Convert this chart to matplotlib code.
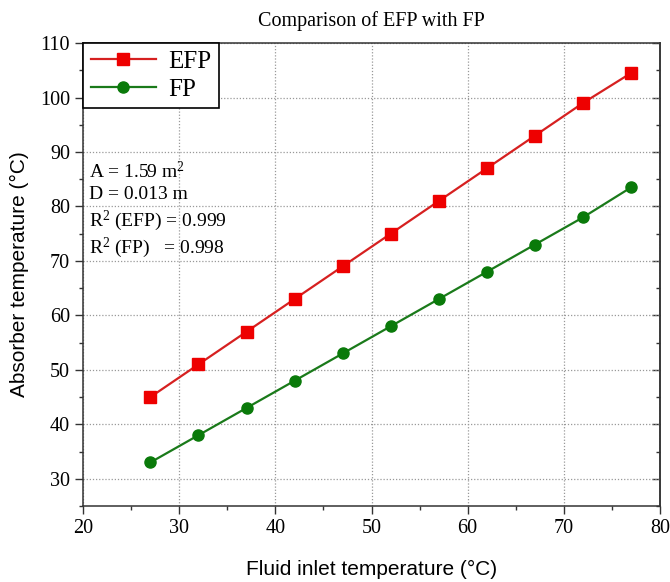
import matplotlib
matplotlib.use("Agg")
import matplotlib.pyplot as plt
from matplotlib.ticker import MultipleLocator

x = [27, 32, 37, 42, 47, 52, 57, 62, 67, 72, 77]
efp = [45, 51, 57, 63, 69, 75, 81, 87, 93, 99, 104.5]
fp = [33, 38, 43, 48, 53, 58, 63, 68, 73, 78, 83.5]
notes = ["A = 1.59 m$^2$", "D = 0.013 m", "R$^2$ (EFP) = 0.999", "R$^2$ (FP)   = 0.998"]

serif = "Liberation Serif"
sans = "Liberation Sans"
plt.rcParams["mathtext.fontset"] = "custom"
plt.rcParams["mathtext.rm"] = serif
plt.rcParams["mathtext.it"] = serif + ":italic"

fig = plt.figure(figsize=(6.7, 5.82), dpi=100)
ax = fig.add_axes([0.124, 0.1306, 0.861, 0.7954])

ax.plot(x, efp, color="#d62020", marker="s", markersize=8, lw=1.6, label="EFP", markerfacecolor="#ee0000", markeredgecolor="#ee0000")
ax.plot(x, fp, color="#1a7a1a", marker="o", markersize=8, lw=1.6, label="FP", markerfacecolor="#0a7a0a", markeredgecolor="#0a7a0a")

ax.set_xlim(20, 80)
ax.set_ylim(25, 110)
ax.xaxis.set_major_locator(MultipleLocator(10))
ax.xaxis.set_minor_locator(MultipleLocator(5))
ax.yaxis.set_minor_locator(MultipleLocator(5))
ax.set_yticks([30, 40, 50, 60, 70, 80, 90, 100, 110])
ax.grid(True, which="major", linestyle=(0, (1, 1.5)), color="#999999", lw=0.9)
ax.tick_params(which="both", direction="out", top=False, right=False, labelsize=14.5, width=1, color="#333333")
ax.tick_params(which="major", length=6)
ax.tick_params(which="minor", length=3)
for lab in ax.get_xticklabels() + ax.get_yticklabels():
    lab.set_fontfamily(serif)
for s in ax.spines.values():
    s.set_color("#333333")
    s.set_linewidth(1.1)

sec = ax.secondary_yaxis("right")
sec.set_yticks([30, 40, 50, 60, 70, 80, 90, 100, 110])
sec.yaxis.set_minor_locator(MultipleLocator(5))
sec.tick_params(which="both", direction="in", labelright=False, width=1, color="#333333")
sec.tick_params(which="major", length=6)
sec.tick_params(which="minor", length=3)
sec.spines["right"].set_color("#333333")
sec.spines["right"].set_linewidth(1.1)

ax.set_xlabel("Fluid inlet temperature (°C)", fontsize=15, family=sans, labelpad=16)
ax.set_ylabel("Absorber temperature (°C)", fontsize=15, family=sans, labelpad=8)
ax.set_title("Comparison of EFP with FP", fontsize=14.5, family=serif, pad=12)

leg = ax.legend(loc="upper left", prop={"family": serif, "size": 18}, frameon=True, fancybox=False,
                edgecolor="black", borderaxespad=0.0, handlelength=2.6, borderpad=0.3, labelspacing=0.2,
                handletextpad=0.5, framealpha=1)
leg.get_frame().set_linewidth(1.2)

ys = [86.5, 82.2, 77.3, 72.4]
for t, yv in zip(notes, ys):
    ax.text(20.6, yv, t, fontsize=14, family=serif, va="center", ha="left")

fig.savefig("out.png", dpi=100)
